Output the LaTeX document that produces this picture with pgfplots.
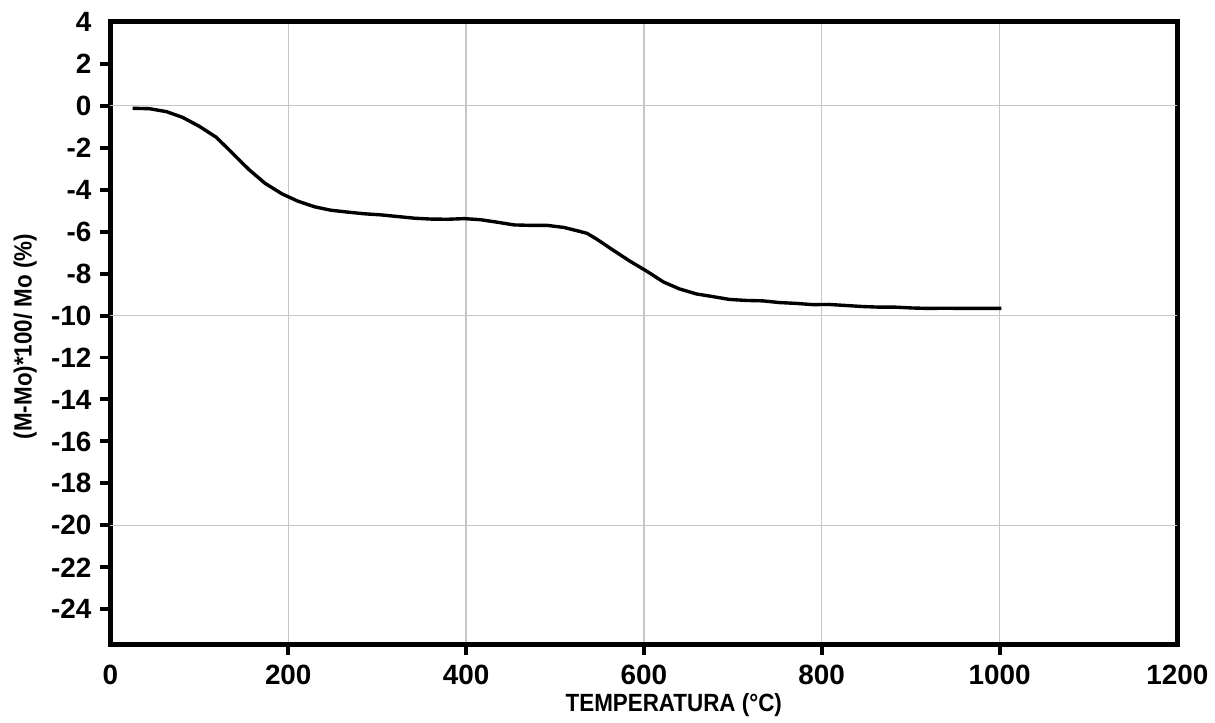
\documentclass[border=0pt]{standalone}
\usepackage{fontspec}
\setmainfont{Liberation Sans}
\newfontfamily\labfont[FakeStretch=0.9]{Liberation Sans}
\usepackage{pgfplots}
\pgfplotsset{compat=1.18}

\begin{document}
\begin{tikzpicture}
\begin{axis}[
    scale only axis,
    width=536pt, height=313pt,
    xmin=0, xmax=1200,
    ymin=-25.7, ymax=4,
    xtick={200,400,600,800,1000},
    extra x ticks={0,1200},
    extra x tick labels={\bfseries 0,\bfseries 1200},
    extra x tick style={major tick length=0pt, xmajorgrids=false,
        xticklabel style={yshift=-5pt}},
    ytick={-24,-22,...,2},
    extra y ticks={4},
    extra y tick style={major tick length=0pt, yticklabel style={xshift=-5pt}},
    xmajorgrids=true,
    grid style={gray!45, line width=0.6pt},
    axis line style={line width=2.5pt},
    tick align=outside,
    tick style={black, line width=2pt},
    major tick length=5pt,
    xtick pos=bottom, ytick pos=left,
    /pgf/number format/assume math mode=true,
    /pgf/number format/1000 sep={},
    ticklabel style={font=\fontsize{14}{14}\selectfont\bfseries},
    yticklabel style={xshift=-1pt},
    xticklabel style={yshift=-1.5pt},
    xlabel={TEMPERATURA (°C)},
    ylabel={(M-Mo)*100/ Mo (\%)},
    every axis x label/.style={at={(axis description cs:0.528,-0.096)}, anchor=center,
        font=\labfont\fontsize{12.5}{12.5}\selectfont\bfseries},
    every axis y label/.style={at={(axis description cs:-0.08,0.495)}, rotate=90, anchor=center,
        font=\labfont\fontsize{12.5}{12.5}\selectfont\bfseries},
    clip=false,
]
% horizontal grid only every 10 units
\draw[gray!45, line width=0.6pt] (axis cs:0,0) -- (axis cs:1200,0);
\draw[gray!45, line width=0.6pt] (axis cs:0,-10) -- (axis cs:1200,-10);
\draw[gray!45, line width=0.6pt] (axis cs:0,-20) -- (axis cs:1200,-20);

\addplot[black, line width=1.7pt, line join=round] coordinates {
(25,-0.12)(44,-0.14)(63,-0.28)(81,-0.55)(100,-0.98)(119,-1.5)(137,-2.25)
(156,-3.05)(174,-3.7)(193,-4.2)(211,-4.55)(230,-4.82)(248,-4.98)(267,-5.07)
(286,-5.15)(304,-5.2)(323,-5.28)(342,-5.36)(360,-5.4)(379,-5.41)(398,-5.38)
(416,-5.43)(435,-5.55)(454,-5.68)(472,-5.7)(491,-5.7)(510,-5.8)(527,-5.98)
(536,-6.08)(547,-6.36)(566,-6.9)(584,-7.4)(603,-7.88)(622,-8.4)(640,-8.73)
(659,-8.97)(678,-9.1)(696,-9.23)(715,-9.28)(734,-9.3)(752,-9.38)(771,-9.42)
(790,-9.48)(808,-9.47)(827,-9.52)(846,-9.57)(865,-9.6)(883,-9.6)(902,-9.64)
(920,-9.66)(939,-9.65)(958,-9.66)(977,-9.66)(1002,-9.66)
};

\coordinate (bl) at (rel axis cs:-0.1035,-0.115);
\coordinate (tr) at (rel axis cs:1.0299,1.0351);
\end{axis}
\useasboundingbox (bl) rectangle (tr);
\end{tikzpicture}
\end{document}
